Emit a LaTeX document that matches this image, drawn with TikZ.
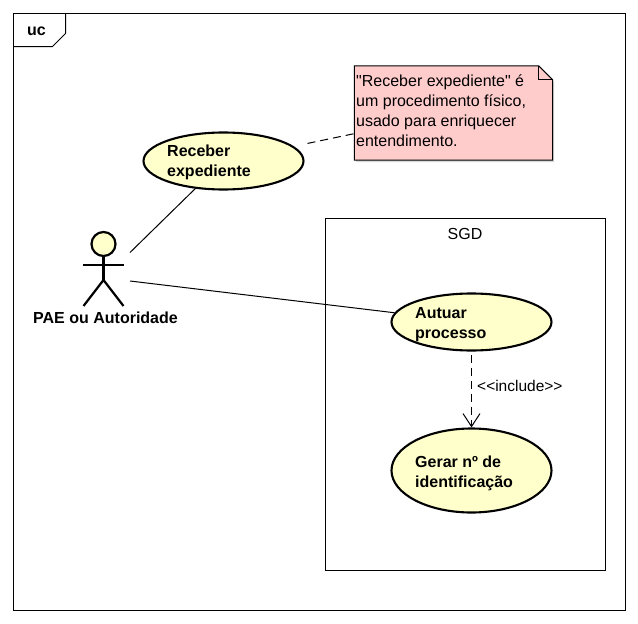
\documentclass[tikz,border=0pt]{standalone}
\usepackage{fontspec}
\setmainfont{Liberation Sans}
\usetikzlibrary{shapes.geometric,arrows.meta}
\definecolor{ucfill}{HTML}{FFFFCC}
\definecolor{notefill}{HTML}{FFCCCC}
\tikzset{
  usecase/.style={ellipse,draw=black,line width=2.1pt,fill=ucfill,inner sep=0pt,minimum width=160pt},
  uctext/.style={anchor=west,align=left,font=\fontsize{16}{20}\selectfont\bfseries,inner sep=0pt},
  plaintext/.style={align=left,font=\fontsize{16}{20}\selectfont,inner sep=0pt},
  thinline/.style={draw=black,line width=1pt},
  actorline/.style={draw=black,line width=2.2pt},
  dashline/.style={draw=black,line width=1pt,dash pattern=on 8pt off 5pt},
}
\begin{document}
\begin{tikzpicture}[x=1pt,y=-1pt]
\useasboundingbox (0,0) rectangle (638,624);
\fill[white] (0,0) rectangle (638,624);
% frame
\draw[thinline] (13.5,13.5) rectangle (625.5,610.5);
\draw[thinline] (13.5,46.5) -- (52.5,46.5) -- (65.5,33.5) -- (65.5,13.5);
\node[uctext,anchor=center] (frametitle) at (36.5,31) {uc};
% system
\node[draw=black,line width=1pt,minimum width=280pt,minimum height=352pt,inner sep=0pt] (sgd) at (465.5,394.5) {};
\node[plaintext] (sgdtitle) at (465,234) {SGD};
% note
\node[minimum width=198pt,minimum height=94pt,inner sep=0pt] (note) at (453.5,113) {};
\fill[black!15] (356,68) -- (540,68) -- (554,82) -- (554,162) -- (356,162) -- cycle;
\draw[thinline,fill=notefill] (note.north west) -- ([xshift=-14pt]note.north east) -- ([yshift=-14pt]note.north east) -- (note.south east) -- (note.south west) -- cycle;
\draw[thinline] ([xshift=-14pt]note.north east) -- ([xshift=-14pt,yshift=-14pt]note.north east) -- ([yshift=-14pt]note.north east);
\node[plaintext,anchor=west] (notetext) at (356,111) {\textquotedbl Receber expediente\textquotedbl{} é\\um procedimento físico,\\usado para enriquecer\\entendimento.};
% use cases
\node[usecase,minimum height=57pt] (recv) at (223.5,161) {};
\node[uctext] (recvtext) at (167,162) {Receber\\expediente};
\node[usecase,minimum height=57pt] (autuar) at (471.5,322) {};
\node[uctext] (autuartext) at (415,325) {Autuar\\processo};
\node[usecase,minimum height=84pt] (gerar) at (471.5,470.5) {};
\node[uctext] (gerartext) at (415,473.5) {Gerar nº de\\identificação};
% actor
\node[circle,draw=black,line width=2.2pt,fill=ucfill,minimum size=24pt,inner sep=0pt] (head) at (103.5,244) {};
\coordinate (hip) at (103.5,280);
\coordinate (larm) at (83,265);
\coordinate (rarm) at (123.5,265);
\coordinate (lfoot) at (83.5,306);
\coordinate (rfoot) at (123.5,306);
\draw[actorline] (head.south) -- (hip);
\draw[actorline] (larm) -- (rarm);
\draw[actorline] (lfoot) -- (hip) -- (rfoot);
\node[uctext,anchor=center] (actorname) at (105.5,318) {PAE ou Autoridade};
\coordinate (actorup) at (130,252.5);
\coordinate (actordown) at (130,281);
% connectors
\draw[thinline] (actorup) -- (recv);
\draw[thinline] (actordown) -- (autuar);
\draw[dashline,shorten <=14pt] (recv) -- (note);
\draw[dashline,shorten <=3pt,-{Straight Barb[length=13pt,width=17pt,line width=1pt]}] (autuar) -- (gerar);
\node[plaintext,anchor=west,font=\fontsize{15.5}{18}\selectfont] (inclabel) at (477,386) {<{}<include>{}>};
\end{tikzpicture}
\end{document}
